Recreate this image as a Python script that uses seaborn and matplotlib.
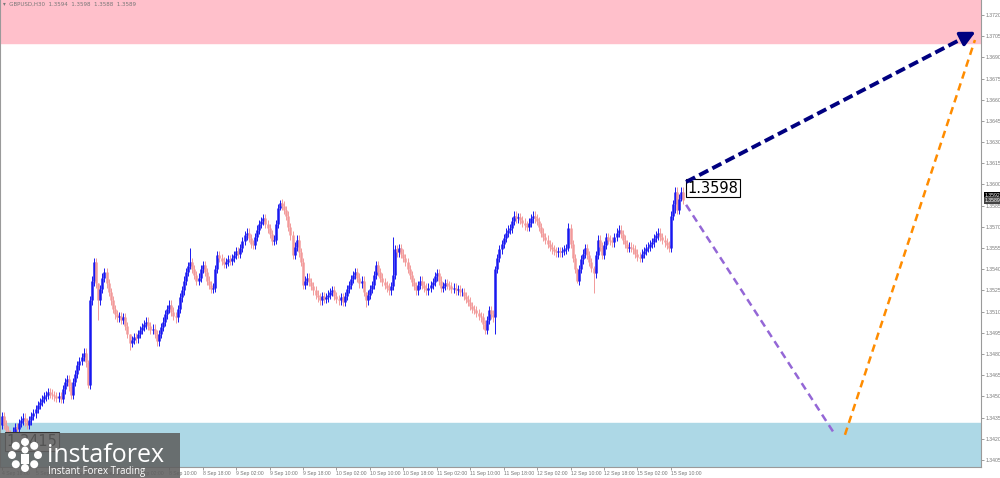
import matplotlib
matplotlib.use("Agg")
import matplotlib.pyplot as plt
import matplotlib.patches as mpatches
import matplotlib.transforms as mtransforms
import seaborn as sns
import numpy as np

# --- data: GBPUSD H30, closes in pips above 1.3400 ---
close_pips = [
    36, 30, 26, 24, 22, 25, 28, 27, 31, 33, 35, 32, 30, 33, 36, 38, 41, 44, 46, 48,
    50, 51, 53, 52, 51, 50, 49, 50, 48, 55, 60, 62, 57, 51, 60, 66, 72, 75, 78, 81,
    74, 58, 118, 132, 145, 130, 118, 126, 134, 138, 130, 124, 118, 112, 108, 106, 107, 104, 106, 100,
    94, 88, 90, 92, 91, 94, 97, 99, 101, 103, 100, 97, 98, 94, 89, 94, 99, 103, 108, 112,
    115, 110, 107, 106, 112, 120, 125, 132, 138, 142, 145, 140, 136, 132, 134, 140, 143, 138, 132, 129,
    126, 127, 140, 150, 148, 146, 144, 145, 147, 146, 148, 150, 153, 151, 155, 160, 164, 166, 162, 158,
    157, 163, 168, 172, 174, 176, 172, 169, 165, 160, 161, 172, 183, 187, 185, 182, 178, 170, 164, 150,
    156, 161, 152, 145, 129, 132, 134, 131, 128, 125, 122, 120, 118, 121, 119, 120, 122, 124, 125, 121,
    119, 118, 120, 117, 121, 126, 129, 133, 136, 138, 134, 130, 132, 124, 118, 122, 126, 129, 136, 143,
    138, 134, 131, 129, 127, 125, 128, 136, 154, 152, 155, 151, 148, 145, 140, 136, 131, 128, 125, 129,
    132, 129, 127, 125, 127, 129, 131, 135, 137, 132, 127, 128, 130, 129, 128, 126, 127, 125, 126, 124,
    124, 121, 119, 117, 114, 112, 111, 109, 107, 106, 101, 97, 104, 111, 108, 106, 140, 148, 154, 158,
    162, 166, 168, 169, 174, 178, 176, 177, 175, 173, 171, 170, 173, 176, 178, 176, 174, 170, 166, 163,
    161, 158, 156, 154, 153, 152, 153, 152, 153, 154, 155, 169, 158, 148, 140, 132, 140, 147, 151, 155,
    150, 145, 141, 137, 150, 161, 156, 150, 157, 163, 161, 160, 159, 163, 166, 168, 165, 161, 158, 155,
    156, 155, 154, 151, 149, 148, 151, 153, 155, 156, 158, 159, 162, 164, 166, 163, 161, 159, 157, 155,
    178, 186, 195, 182, 190, 195, 189,
]
first_open_pips = 30
# notable wick extremes: bar -> (high, low) in pips
wick_pips = {
    4: (26, 21), 41: (76, 56), 44: (148, 128), 46: (130, 104), 61: (94, 83),
    83: (110, 102), 90: (155, 140), 133: (189, 182), 174: (124, 113),
    187: (163, 125), 231: (104, 94), 236: (142, 94), 271: (173, 153),
    275: (141, 130), 283: (142, 123), 322: (198, 180), 325: (198, 188),
}

date_labels = ["4 Sep 18:00", "5 Sep 02:00", "5 Sep 10:00", "5 Sep 18:00", "8 Sep 02:00",
               "8 Sep 10:00", "8 Sep 18:00", "9 Sep 02:00", "9 Sep 10:00", "9 Sep 18:00",
               "10 Sep 02:00", "10 Sep 10:00", "10 Sep 18:00", "11 Sep 02:00", "11 Sep 10:00",
               "11 Sep 18:00", "12 Sep 02:00", "12 Sep 10:00", "12 Sep 18:00", "15 Sep 02:00",
               "15 Sep 10:00"]
bars_per_label = 16

price_ticks = [1.3405 + 0.0015 * k for k in range(22)]

# forecast waves (bar index, price)
up_wave_bars = [327.3, 467.0]
up_wave_prices = [1.36018, 1.37090]
down_wave_bars = [327.3, 398.6]
down_wave_prices = [1.35856, 1.34228]
final_wave_bars = [403.3, 465.5]
final_wave_prices = [1.34228, 1.37023]

resistance_zone = (1.3700, 1.3740)
support_zone = (1.3380, 1.3431)

label_hi = 1.3598
label_lo = 1.3415

# --- build ohlc ---
closes = np.array(close_pips) / 10000 + 1.34
opens = np.concatenate([[first_open_pips], close_pips[:-1]]) / 10000 + 1.34
highs = np.maximum(opens, closes) + 0.0003
lows = np.minimum(opens, closes) - 0.0003
for b, (h, l) in wick_pips.items():
    highs[b] = 1.34 + h / 10000
    lows[b] = 1.34 + l / 10000
idx = np.arange(len(closes))
bull = closes >= opens
colors = np.where(bull, "#1818f0", "#f29a9a")

sns.set_theme(style="white")
plt.rcParams["font.family"] = ["Liberation Sans", "DejaVu Sans"]

fig = plt.figure(figsize=(10, 4.78), dpi=100)
ax = fig.add_axes([0, 11 / 478, 0.981, 467 / 478])

ax.set_xlim(-1, 468.4)
ax.set_ylim(1.3400, 1.37306)

ax.axhspan(*resistance_zone, color="pink", zorder=0)
ax.axhspan(*support_zone, color="lightblue", zorder=0)

ax.vlines(idx, lows, highs, colors=colors, lw=0.7, zorder=2)
ax.vlines(idx, opens, closes, colors=colors, lw=1.8, zorder=3)

# forecast lines
sns.lineplot(x=down_wave_bars, y=down_wave_prices, ax=ax, color="#9467d6", lw=1.8,
             linestyle=(0, (3, 2)), zorder=4)
sns.lineplot(x=final_wave_bars, y=final_wave_prices, ax=ax, color="#ff8c00", lw=1.8,
             linestyle=(0, (3, 2)), zorder=4)
sns.lineplot(x=[up_wave_bars[0], up_wave_bars[1] - 6], y=[up_wave_prices[0], up_wave_prices[1] - 0.00045],
             ax=ax, color="#000080", lw=2.8, linestyle=(0, (2.6, 1.2)), zorder=8)
ax.annotate("", xy=(up_wave_bars[1], up_wave_prices[1]),
            xytext=(up_wave_bars[1] - 8, up_wave_prices[1] - 0.0006),
            arrowprops=dict(arrowstyle="-|>", color="#000080", lw=2.5, mutation_scale=22),
            zorder=9)

ax.text(328, label_hi - 0.00005, f"{label_hi:.4f}", fontsize=10.5, color="black", va="center",
        ha="left", family=["DejaVu Sans"],
        bbox=dict(boxstyle="square,pad=0.12", fc="white", ec="black", lw=0.8), zorder=7)
ax.text(2, label_lo + 0.0003, f"{label_lo:.4f}", fontsize=10.5, color="black", va="center",
        ha="left", family=["DejaVu Sans"],
        bbox=dict(boxstyle="square,pad=0.12", fc="white", ec="#333333", lw=0.8), zorder=7)

# axes styling
ax.spines["top"].set_visible(False)
for s in ["left", "right", "bottom"]:
    ax.spines[s].set_color("#9a9a9a")
    ax.spines[s].set_linewidth(0.8)

ax.yaxis.tick_right()
ax.set_yticks(price_ticks)
ax.set_yticklabels([f"{p:.4f}" for p in price_ticks])
ax.tick_params(axis="y", labelsize=3.7, colors="#777777", length=2, width=0.5, pad=1.2, right=True)

xt = [k * bars_per_label for k in range(len(date_labels))]
ax.set_xticks(xt)
ax.set_xticklabels(date_labels, ha="left")
ax.tick_params(axis="x", labelsize=3.7, colors="#777777", length=2, width=0.5, pad=1.0, bottom=True)

# current price tags on the right scale
trans = mtransforms.blended_transform_factory(ax.transAxes, ax.transData)
ax.text(1.004, 1.35925, "1.3592", transform=trans, fontsize=3.7, color="white", va="center",
        ha="left", bbox=dict(boxstyle="square,pad=0.15", fc="black", ec="none"), clip_on=False)
ax.text(1.004, 1.35885, "1.3589", transform=trans, fontsize=3.7, color="white", va="center",
        ha="left", bbox=dict(boxstyle="square,pad=0.15", fc="#444444", ec="none"), clip_on=False)

fig.text(0.003, 1 - 4.5 / 478, "\u25be  GBPUSD,H30  1.3594  1.3598  1.3588  1.3589", fontsize=4.0,
         color="#777777", va="center", ha="left", family=["DejaVu Sans"])

# logo
fig.patches.append(mpatches.Rectangle((0, 0), 0.18, 45 / 478, transform=fig.transFigure,
                                      fc="#5f5f5f", alpha=0.88, ec="none", zorder=10))
cx, cy = 25, 455
for a in np.linspace(0, 2 * np.pi, 9)[:-1]:
    px, py = cx + 13 * np.cos(a), cy + 13 * np.sin(a)
    fig.patches.append(mpatches.Ellipse((px / 1000, 1 - py / 478), 8 / 1000, 8 / 478,
                                        transform=fig.transFigure, fc="white", ec="none", zorder=11))
fig.patches.append(mpatches.Ellipse((cx / 1000, 1 - (cy - 5) / 478), 7 / 1000, 7 / 478,
                                    transform=fig.transFigure, fc="white", ec="none", zorder=11))
fig.patches.append(mpatches.Rectangle(((cx - 4) / 1000, 1 - (cy + 9) / 478), 8 / 1000, 10 / 478,
                                      transform=fig.transFigure, fc="white", ec="none", zorder=11))
fig.text(0.047, 1 - 462 / 478, "instaforex", fontsize=18, color="white", ha="left",
         va="baseline", family=["Open Sans", "DejaVu Sans"], zorder=12)
fig.text(0.048, 1 - 474 / 478, "Instant Forex Trading", fontsize=7, color="white", ha="left",
         va="baseline", family=["Open Sans", "DejaVu Sans"], zorder=12)

fig.savefig("out.png", dpi=100)
